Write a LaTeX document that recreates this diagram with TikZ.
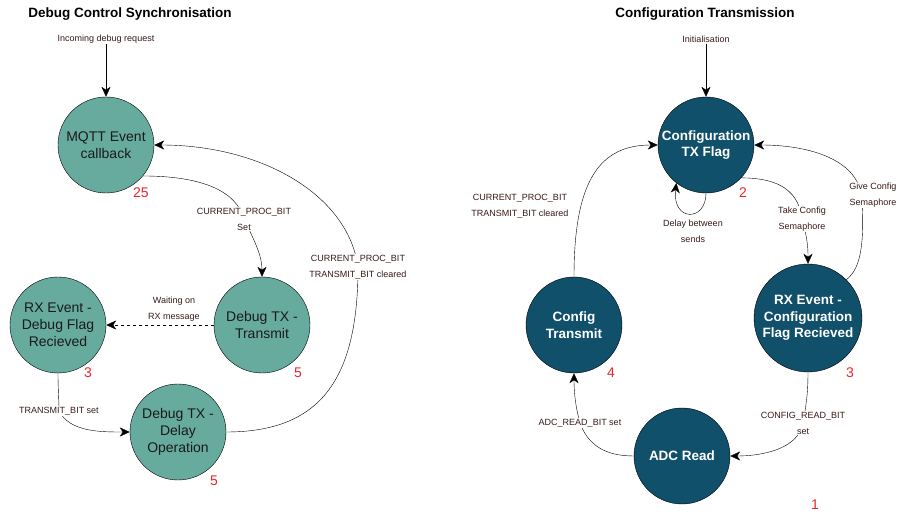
\documentclass[tikz,border=0pt]{standalone}
\usepackage{fontspec}
\setmainfont{Liberation Sans}
\usetikzlibrary{arrows.meta}
\definecolor{tealfill}{HTML}{67AB9F}
\definecolor{bluefill}{HTML}{10506B}
\definecolor{lblcol}{HTML}{3A1A1A}
\definecolor{numred}{HTML}{E8262B}
\definecolor{darktxt}{HTML}{1A1A1A}
\tikzset{
  every picture/.style={x=1pt,y=-1pt},
  line width=1.2pt,
  arr/.style={-{Stealth[length=10pt,width=9pt,inset=3pt]}},
  lstate/.style={circle,draw=black,fill=tealfill,minimum size=96pt,inner sep=0pt,align=center,
     font=\fontsize{14}{17}\selectfont,text=darktxt},
  rstate/.style={circle,draw=black,fill=bluefill,minimum size=96pt,inner sep=0pt,align=center,
     font=\bfseries\fontsize{13.5}{16.5}\selectfont,text=white},
  elabel/.style={fill=white,inner sep=1pt,align=center,text=lblcol,
     font=\fontsize{9}{16}\selectfont},
  plabel/.style={inner sep=1pt,align=center,text=lblcol,font=\fontsize{9}{16}\selectfont},
  num/.style={text=numred,font=\fontsize{14}{16}\selectfont,inner sep=0pt},
  ttl/.style={font=\bfseries\fontsize{13.5}{15}\selectfont,inner sep=0pt},
}
\begin{document}
\begin{tikzpicture}
\useasboundingbox (0,0) rectangle (911,518);
\fill[white] (0,0) rectangle (911,518);

% ---------------- Left diagram ----------------
\node[ttl] (t1) at (130,14) {Debug Control Synchronisation};
\node[plabel] (inc) at (106,39) {Incoming debug request};
\node[lstate] (mqtt) at (106,145) {MQTT Event\\callback};
\node[lstate] (dtx) at (262,325) {Debug TX -\\Transmit};
\node[lstate] (rxd) at (58,325) {RX Event -\\Debug Flag\\Recieved};
\node[lstate] (dly) at (178,432) {Debug TX -\\Delay\\Operation};
\node[num] (n25) at (141,193) {25};
\node[num] (n5a) at (298,373) {5};
\node[num] (n3a) at (88,373) {3};
\node[num] (n5b) at (214,481) {5};

\coordinate (c1) at (244,219);
\coordinate (c2) at (358,267);
\coordinate (c3) at (59,411);

\draw[arr] (inc.south) -- (mqtt.north);
\draw[arr] (mqtt.-40) .. controls (200,176) and (236,190) .. (c1)
   .. controls (254,240) and (262,255) .. (dtx.north);
\draw[arr,dashed] (dtx.west) -- (rxd.east);
\node[plabel] (wlab) at (174,309) {Waiting on\\RX message};
\draw[arr] (rxd.south) .. controls (58,390) and (59,400) .. (c3)
   .. controls (70,432) and (100,432) .. (dly.west);
\draw[arr] (dly.east) .. controls (320,432) and (358,380) .. (c2)
   .. controls (348,195) and (262,145) .. (mqtt.east);
\node[elabel] (l1) at (c1) {CURRENT\_PROC\_BIT\\Set};
\node[elabel] (l2) at (c2) {CURRENT\_PROC\_BIT\\TRANSMIT\_BIT cleared};
\node[elabel] (l3) at (c3) {TRANSMIT\_BIT set};

% ---------------- Right diagram ----------------
\node[ttl] (t2) at (705,14) {Configuration Transmission};
\node[plabel] (ini) at (706,39) {Initialisation};
\node[rstate] (cfg) at (706,145) {Configuration\\TX Flag};
\node[rstate,minimum size=108pt] (rxc) at (808,318) {RX Event -\\Configuration\\Flag Recieved};
\node[rstate] (ctx) at (574,325) {Config\\Transmit};
\node[rstate] (adc) at (682,456) {ADC Read};
\node[num] (n2) at (743,193) {2};
\node[num] (n3b) at (850,373) {3};
\node[num] (n4) at (611,373) {4};
\node[num] (n1) at (815,505) {1};

\coordinate (d1) at (802,219);
\coordinate (d2) at (862,200);
\coordinate (d3) at (803,423);
\coordinate (d4) at (580,423);

\draw[arr] (ini.south) -- (cfg.north);
\draw[arr] (cfg.south) .. controls (706,222) and (672,222) .. (cfg.-128);
\node[plabel] (dlab) at (693,231) {Delay between\\sends};
\draw[arr] (cfg.-43) .. controls (770,178) and (798,185) .. (d1)
   .. controls (808,240) and (808,250) .. (rxc.north);
\draw[arr] (rxc.45) .. controls (862,268) and (864,240) .. (d2)
   .. controls (860,160) and (810,145) .. (cfg.east);
\draw[arr] (rxc.south) .. controls (808,395) and (806,405) .. (d3)
   .. controls (798,450) and (760,456) .. (adc.east);
\draw[arr] (adc.west) .. controls (605,456) and (588,445) .. (d4)
   .. controls (575,405) and (574,390) .. (ctx.south);
\draw[arr] (ctx.north) .. controls (574,180) and (600,145) .. (cfg.west);
\node[plabel] (clab) at (520,206) {CURRENT\_PROC\_BIT\\TRANSMIT\_BIT cleared};
\node[elabel] (m1) at (d1) {Take Config\\Semaphore};
\node[elabel] (m2) at (873,195) {Give Config\\Semaphore};
\node[elabel] (m3) at (d3) {CONFIG\_READ\_BIT\\set};
\node[elabel] (m4) at (d4) {ADC\_READ\_BIT set};
\end{tikzpicture}
\end{document}
